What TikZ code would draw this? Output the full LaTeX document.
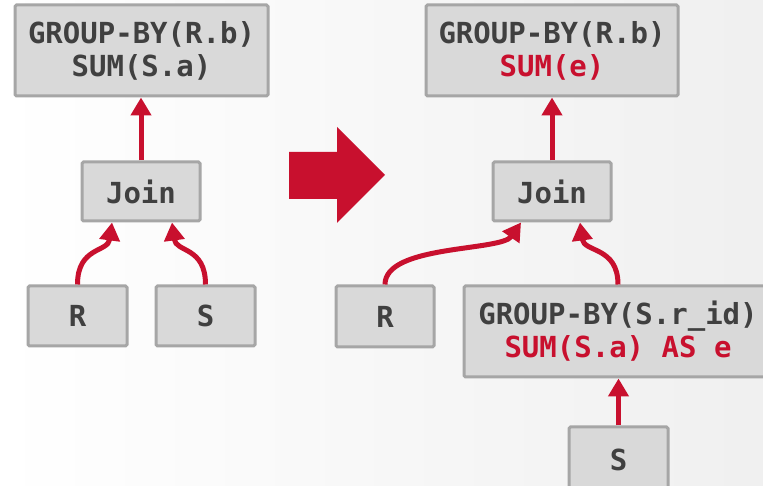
\documentclass[tikz,border=0pt]{standalone}
\usepackage{fontspec}
\setmonofont{DejaVu Sans Mono}
\usepackage{tikz}
\usetikzlibrary{positioning, arrows.meta, calc}
\definecolor{PlanRed}{RGB}{200, 16, 46}
\definecolor{BoxGray}{RGB}{217, 217, 217}
\definecolor{EdgeGray}{RGB}{166, 166, 166}
\definecolor{TextGray}{RGB}{64, 64, 64}

\begin{document}
\begin{tikzpicture}[
    x=1pt, y=1pt,
    op/.style={rectangle, rounded corners=1.5pt, draw=EdgeGray, line width=3pt, fill=BoxGray,
      text=TextGray, inner sep=0pt, align=center,
      font=\ttfamily\bfseries\fontsize{29}{33}\selectfont},
    flow/.style={-{Triangle[length=18pt, width=20pt]}, PlanRed, line width=5pt}
  ]
    % Page with a faint grey fade to the right
    \clip (0,0) rectangle (763,486);
    \shade[left color=white, middle color=white, right color=black!6] (0,0) rectangle (763,486);

    % Plan before
    \node[op, minimum width=253pt, minimum height=91pt] (gbL) at (141.5,435.5) {GROUP-BY(R.b)\\SUM(S.a)};
    \node[op, minimum width=118pt, minimum height=59pt] (joinL) at (141,294.5) {Join};
    \node[op, minimum width=99pt, minimum height=60pt] (rL) at (77.5,170) {R};
    \node[op, minimum width=99pt, minimum height=60pt] (sL) at (205.5,170) {S};

    \draw[flow] (joinL.north) -- (joinL.north |- gbL.south);
    \draw[flow] (rL.north) .. controls +(0,38) and +(-4,-30) .. ([xshift=-29pt]joinL.south);
    \draw[flow] (sL.north) .. controls +(0,38) and +(4,-30) .. ([xshift=31pt]joinL.south);

    % Rewrite arrow
    \fill[PlanRed] (289,287) -- (337,287) -- (337,263) -- (385,311) -- (337,359) -- (337,334) -- (289,334) -- cycle;

    % Plan after
    \node[op, minimum width=252pt, minimum height=91pt] (gbR) at (552,435.5) {GROUP-BY(R.b)\\\textcolor{PlanRed}{SUM(e)}};
    \node[op, minimum width=118pt, minimum height=59pt] (joinR) at (552,294.5) {Join};
    \node[op, minimum width=98pt, minimum height=61pt] (rR) at (385,169.5) {R};
    \node[op, minimum width=308pt, minimum height=91pt] (gbS) at (618,154.5) {GROUP-BY(S.r\_id)\\\textcolor{PlanRed}{SUM(S.a) AS e}};
    \node[op, minimum width=99pt, minimum height=66pt] (sR) at (618.5,26) {S};

    \draw[flow] (joinR.north) -- (joinR.north |- gbR.south);
    \draw[flow] (rR.north) .. controls +(0,40) and +(-20,-29) .. ([xshift=-31pt]joinR.south);
    \draw[flow] (gbS.north) .. controls +(0,38) and +(4,-30) .. ([xshift=28pt]joinR.south);
    \draw[flow] (sR.north) -- (sR.north |- gbS.south);
  \end{tikzpicture}
\end{document}
